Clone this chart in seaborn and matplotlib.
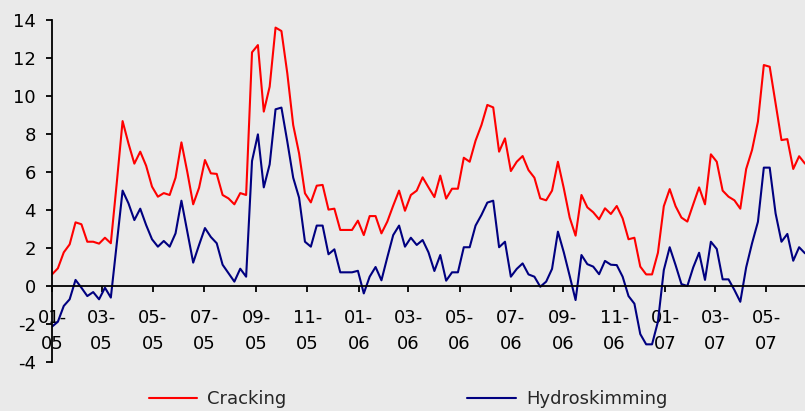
import pandas as pd
import seaborn as sns
import matplotlib
matplotlib.use("Agg")
import matplotlib.pyplot as plt
import matplotlib.dates as mdates

# weekly margins
cracking = [0.61, 0.93, 1.77, 2.19, 3.35, 3.25, 2.33, 2.33, 2.23, 2.54,
            2.25, 5.4, 8.68, 7.5, 6.44, 7.07, 6.33, 5.23, 4.70, 4.89,
            4.79, 5.70, 7.56, 6.0, 4.30, 5.17, 6.63, 5.93, 5.9, 4.79,
            4.61, 4.30, 4.89, 4.79, 12.3, 12.68, 9.18, 10.49, 13.6, 13.42,
            11.19, 8.47, 6.98, 4.88, 4.4, 5.28, 5.32, 4.02, 4.07, 2.95,
            2.95, 2.95, 3.44, 2.68, 3.68, 3.68, 2.77, 3.39, 4.23, 5.02,
            3.96, 4.79, 5.02, 5.72, 5.19, 4.68, 5.81, 4.6, 5.12, 5.12,
            6.75, 6.54, 7.65, 8.47, 9.53, 9.4, 7.07, 7.77, 6.05, 6.54,
            6.84, 6.1, 5.7, 4.61, 4.51, 5.02, 6.54, 5.14, 3.6, 2.65,
            4.79, 4.14, 3.88, 3.51, 4.09, 3.79, 4.21, 3.56, 2.46, 2.54,
            1.02, 0.61, 0.61, 1.75, 4.2, 5.1, 4.2, 3.6, 3.39, 4.3,
            5.19, 4.3, 6.93, 6.54, 5.02, 4.7, 4.51, 4.07, 6.16, 7.16,
            8.65, 11.63, 11.54, 9.61, 7.68, 7.73, 6.16, 6.83, 6.44]

hydroskimming = [-2.14, -1.88, -1.05, -0.7, 0.32, -0.09, -0.53, -0.32, -0.7, -0.09,
                 -0.61, 2.2, 5.02, 4.35, 3.47, 4.07, 3.21, 2.46, 2.07, 2.37,
                 2.07, 2.77, 4.49, 2.85, 1.23, 2.16, 3.05, 2.58, 2.25, 1.12,
                 0.67, 0.23, 0.91, 0.49, 6.58, 7.98, 5.19, 6.4, 9.3, 9.39,
                 7.6, 5.7, 4.65, 2.33, 2.07, 3.18, 3.18, 1.67, 1.93, 0.72,
                 0.72, 0.72, 0.8, -0.39, 0.49, 1.0, 0.3, 1.51, 2.68, 3.18,
                 2.07, 2.54, 2.16, 2.42, 1.77, 0.79, 1.63, 0.28, 0.72, 0.72,
                 2.04, 2.04, 3.18, 3.74, 4.39, 4.49, 2.04, 2.33, 0.49, 0.9,
                 1.19, 0.61, 0.49, -0.04, 0.23, 0.9, 2.86, 1.77, 0.53, -0.74,
                 1.63, 1.15, 1.02, 0.62, 1.32, 1.12, 1.1, 0.49, -0.53, -0.93,
                 -2.53, -3.07, -3.07, -1.88, 0.84, 2.04, 1.1, 0.1, 0.0, 0.98,
                 1.75, 0.32, 2.33, 1.95, 0.35, 0.35, -0.21, -0.83, 0.98, 2.25,
                 3.38, 6.23, 6.23, 3.82, 2.33, 2.74, 1.33, 2.04, 1.72]

series_names = ["Cracking", "Hydroskimming"]
colors = {"Cracking": "#FF0000", "Hydroskimming": "#000080"}
y_ticks = list(range(-4, 15, 2))

dates = pd.date_range("2005-01-01", periods=len(cracking), freq="7D")
df = pd.DataFrame({"Date": dates, "Cracking": cracking, "Hydroskimming": hydroskimming})
df = df.melt("Date", var_name="Type", value_name="Margin")

bg = "#EAEAEA"
sns.set_theme(style="white", rc={"axes.facecolor": bg, "figure.facecolor": bg})
plt.rcParams["font.family"] = ["DejaVu Sans"]
plt.rcParams["axes.unicode_minus"] = False

fig = plt.figure(figsize=(8.05, 4.11), dpi=100)
ax = fig.add_axes([52 / 805, 49 / 411, 753 / 805, 342 / 411])

sns.lineplot(data=df, x="Date", y="Margin", hue="Type", hue_order=series_names,
             palette=colors, linewidth=1.5, ax=ax)

ax.set_xlim(dates[0], dates[-1])
ax.set_ylim(-4, 14)
ax.set_yticks(y_ticks)
ax.xaxis.set_major_locator(mdates.MonthLocator(bymonth=[1, 3, 5, 7, 9, 11]))
ax.xaxis.set_major_formatter(mdates.DateFormatter("%m-\n%y"))
ax.set_xlabel("")
ax.set_ylabel("")

# axis line crosses at zero, like the Excel original
ax.spines["bottom"].set_position(("data", 0))
ax.spines["top"].set_visible(False)
ax.spines["right"].set_visible(False)
for s in ["left", "bottom"]:
    ax.spines[s].set_color("black")
    ax.spines[s].set_linewidth(1.3)

ax.tick_params(axis="both", direction="out", length=4.5, width=1.3, color="black",
               labelsize=13, labelcolor="black", bottom=True, left=True)
ax.tick_params(axis="x", pad=12)
ax.tick_params(axis="y", pad=7)
plt.setp(ax.get_xticklabels(), linespacing=1.6)

handles, labels = ax.get_legend_handles_labels()
ax.get_legend().remove()
fig.legend(handles, labels, loc="center", bbox_to_anchor=(408 / 805, 1 - 399 / 411),
           ncol=2, frameon=False, fontsize=13, handlelength=2.7,
           handletextpad=0.55, columnspacing=10)

fig.savefig("out.png", dpi=100, facecolor=fig.get_facecolor())
